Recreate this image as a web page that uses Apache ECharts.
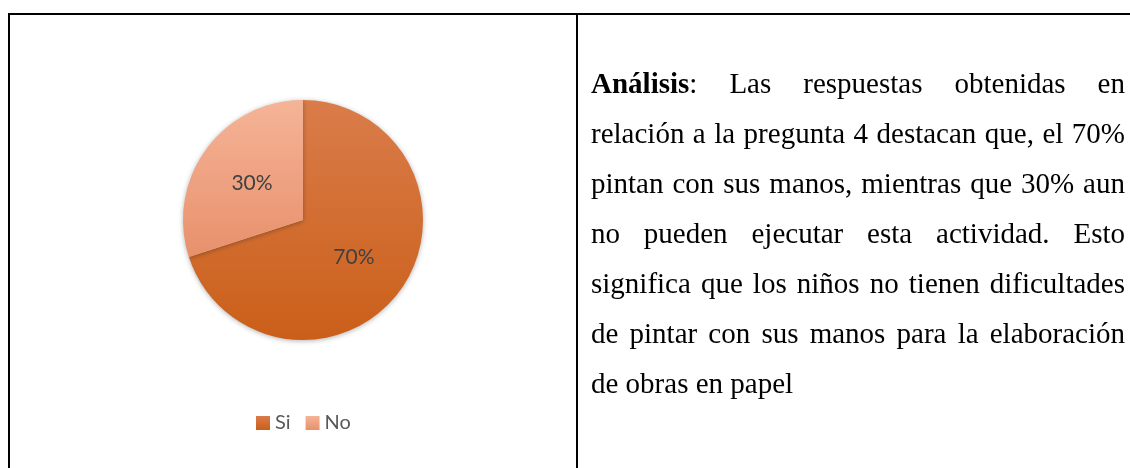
<!DOCTYPE html>
<html>
<head>
<meta charset="utf-8">
<title>Pregunta 4</title>
<script src="https://cdn.jsdelivr.net/npm/echarts@6/dist/echarts.min.js"></script>
<style>
  html, body { margin: 0; padding: 0; background: #fff; }
  #wrap { position: relative; width: 1130px; height: 468px; overflow: hidden; }
  #main { position: absolute; left: 0; top: 0; width: 1130px; height: 468px; }
  /* bordes de la tabla */
  .line { position: absolute; background: #000; }
  #texto {
    position: absolute; left: 591px; top: 58px; width: 534px;
    font-family: "Liberation Serif", "Times New Roman", serif;
    font-size: 29px; line-height: 50px; color: #000;
  }
  #texto div { text-align: justify; text-align-last: justify; white-space: nowrap; }
  #texto div.last { text-align-last: left; }
</style>
</head>
<body>
<div id="wrap">
  <div id="main"></div>
  <div class="line" style="left:8px;top:13px;width:1122px;height:2px"></div>
  <div class="line" style="left:8px;top:13px;width:2px;height:455px"></div>
  <div class="line" style="left:576px;top:13px;width:2px;height:455px"></div>
  <div id="texto">
    <div><b>Análisis</b>: Las respuestas obtenidas en</div>
    <div>relación a la pregunta 4 destacan que, el 70%</div>
    <div>pintan con sus manos, mientras que 30% aun</div>
    <div>no pueden ejecutar esta actividad. Esto</div>
    <div>significa que los niños no tienen dificultades</div>
    <div>de pintar con sus manos para la elaboración</div>
    <div class="last">de obras en papel</div>
  </div>
</div>
<script>
// datos del gráfico
var categorias = ['Si', 'No']
var valores = [70, 30]

// colores de cada porción (degradado vertical)
var colores = [
  ['#DA7C4A', '#CA5F19'],
  ['#F5B497', '#E8906C']
]

var myChart = echarts.init(document.getElementById('main'))

var option = {
  animation: false,
  // leyenda abajo del pastel
  legend: {
    left: 251,
    top: 408,
    icon: 'rect',
    itemWidth: 14,
    itemHeight: 14,
    itemGap: 15,
    data: categorias,
    textStyle: {
      color: '#595959',
      fontFamily: 'Lato',
      fontSize: 20
    }
  },
  series: [
    {
      type: 'pie',
      center: [303, 220],
      radius: 120,
      startAngle: 90,
      clockwise: true,
      label: {
        show: true,
        position: 'inside',
        formatter: '{d}%',
        color: '#404040',
        fontFamily: 'Lato',
        fontSize: 21
      },
      labelLine: { show: false },
      itemStyle: {
        borderWidth: 0,
        shadowBlur: 5,
        shadowOffsetY: 1,
        shadowColor: 'rgba(0,0,0,0.3)'
      },
      emphasis: { disabled: true },
      data: categorias.map(function (c, i) {
        return {
          name: c,
          value: valores[i],
          itemStyle: {
            color: new echarts.graphic.LinearGradient(0, 0, 0, 1, [
              { offset: 0, color: colores[i][0] },
              { offset: 1, color: colores[i][1] }
            ])
          }
        }
      })
    }
  ]
}

myChart.setOption(option)
</script>
</body>
</html>
